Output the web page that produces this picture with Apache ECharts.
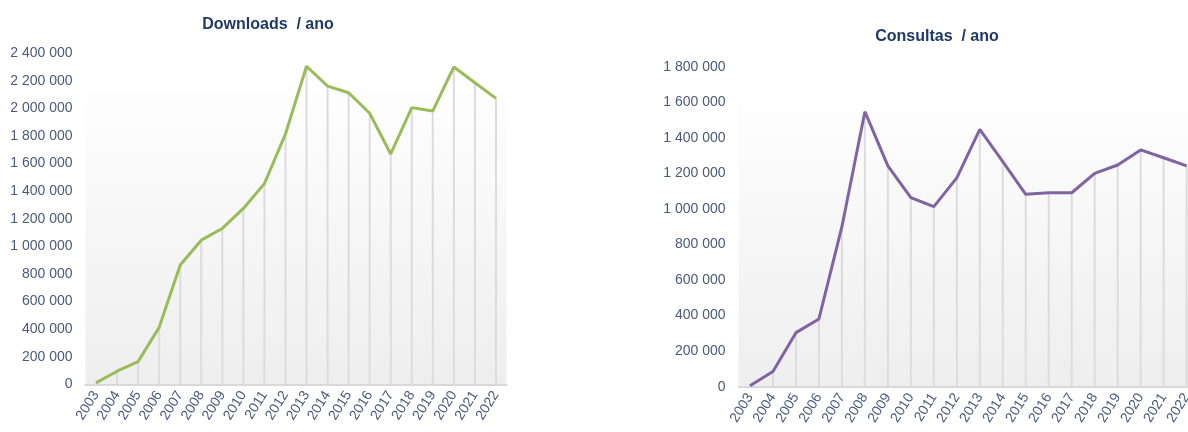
<!DOCTYPE html>
<html>
<head>
<meta charset="utf-8">
<script src="https://cdn.jsdelivr.net/npm/echarts@6/dist/echarts.min.js"></script>
<style>
  html, body { margin: 0; padding: 0; background: #fff; }
  #chart { width: 1188px; height: 432px; }
</style>
</head>
<body>
<div id="chart"></div>
<script>
const years = ['2003', '2004', '2005', '2006', '2007', '2008', '2009', '2010', '2011', '2012',
  '2013', '2014', '2015', '2016', '2017', '2018', '2019', '2020', '2021', '2022']

const downloads = [10000, 95000, 165000, 413000, 865000, 1045000, 1130000, 1275000, 1455000, 1815000,
  2306000, 2162000, 2114000, 1965000, 1670000, 2006000, 1982000, 2301000, 2186000, 2073000]

const consultas = [5000, 85000, 304000, 381000, 900000, 1547000, 1242000, 1063000, 1013000, 1175000,
  1448000, 1266000, 1082000, 1091000, 1091000, 1200000, 1247000, 1332000, 1288000, 1242000]

const downloadsTicks = { max: 2400000, step: 200000 }
const consultasTicks = { max: 1800000, step: 200000 }

const labelColor = '#4a5a78'
const titleColor = '#1f3864'
const dropColor = '#dcdcdc'

function spaced(v) {
  return String(v).replace(/\B(?=(\d{3})+(?!\d))/g, ' ')
}

function plotBack(x, y, w, h) {
  return {
    type: 'rect',
    z: -10,
    shape: { x: x, y: y, width: w, height: h },
    style: {
      fill: new echarts.graphic.LinearGradient(0, 0, 0, 1, [
        { offset: 0, color: '#fefefe' },
        { offset: 1, color: '#eeeeee' },
      ]),
    },
    silent: true,
  }
}

function xAxisFor(idx) {
  return {
    type: 'category',
    gridIndex: idx,
    data: years,
    boundaryGap: true,
    axisLine: { lineStyle: { color: '#d9d9d9', width: 2 } },
    axisTick: { show: false },
    axisLabel: {
      rotate: 58,
      interval: 0,
      margin: 8,
      fontSize: 14,
      fontFamily: 'Liberation Sans',
      color: labelColor,
    },
  }
}

function yAxisFor(idx, ticks) {
  return {
    type: 'value',
    gridIndex: idx,
    min: 0,
    max: ticks.max,
    interval: ticks.step,
    axisLine: { show: false },
    axisTick: { show: false },
    splitLine: { show: false },
    axisLabel: {
      margin: 13,
      fontSize: 14,
      fontFamily: 'Liberation Sans',
      color: labelColor,
      formatter: spaced,
    },
  }
}

const chart = echarts.init(document.getElementById('chart'))

const option = {
  animation: false,
  backgroundColor: '#fff',
  title: [
    {
      text: 'Downloads  / ano',
      left: 263,
      top: 12,
      textAlign: 'center',
      textStyle: { fontFamily: 'Liberation Sans', fontWeight: 'bold', fontSize: 16, color: titleColor },
    },
    {
      text: 'Consultas  / ano',
      left: 932,
      top: 24,
      textAlign: 'center',
      textStyle: { fontFamily: 'Liberation Sans', fontWeight: 'bold', fontSize: 16, color: titleColor },
    },
  ],
  graphic: [
    plotBack(85.5, 90, 421, 294.5),
    plotBack(738.5, 101, 460, 285.5),
  ],
  grid: [
    { left: 85.5, top: 53.3, width: 421, height: 331, outerBoundsMode: 'none', containLabel: false },
    { left: 738.5, top: 66.7, width: 459.6, height: 320, outerBoundsMode: 'none', containLabel: false },
  ],
  xAxis: [xAxisFor(0), xAxisFor(1)],
  yAxis: [yAxisFor(0, downloadsTicks), yAxisFor(1, consultasTicks)],
  series: [
    {
      type: 'bar',
      xAxisIndex: 0,
      yAxisIndex: 0,
      data: downloads,
      barWidth: 2,
      itemStyle: { color: dropColor },
      silent: true,
      z: 1,
    },
    {
      name: 'Downloads',
      type: 'line',
      xAxisIndex: 0,
      yAxisIndex: 0,
      data: downloads,
      symbol: 'none',
      lineStyle: { color: '#9bbb59', width: 3 },
      z: 3,
    },
    {
      type: 'bar',
      xAxisIndex: 1,
      yAxisIndex: 1,
      data: consultas,
      barWidth: 2,
      itemStyle: { color: dropColor },
      silent: true,
      z: 1,
    },
    {
      name: 'Consultas',
      type: 'line',
      xAxisIndex: 1,
      yAxisIndex: 1,
      data: consultas,
      symbol: 'none',
      lineStyle: { color: '#8064a2', width: 3 },
      z: 3,
    },
  ],
}

chart.setOption(option)
</script>
</body>
</html>
